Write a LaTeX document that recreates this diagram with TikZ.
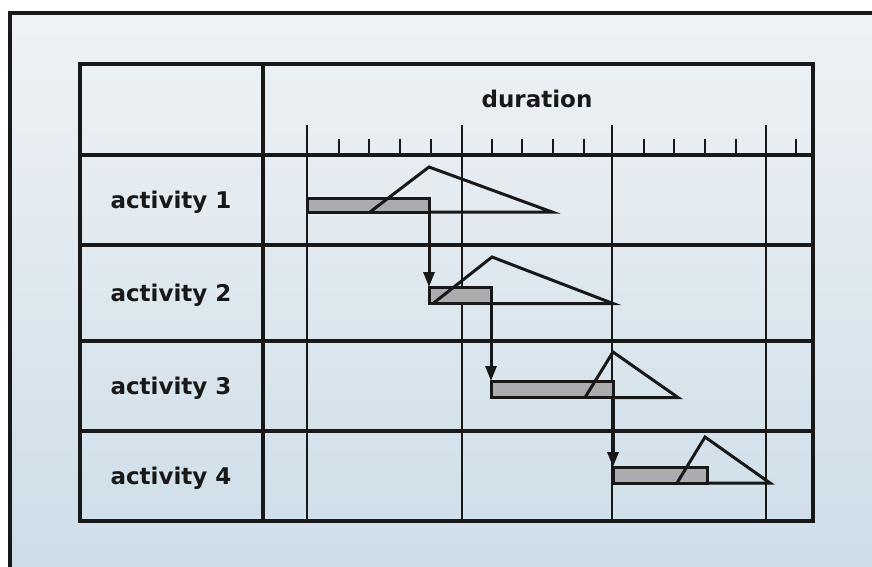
\documentclass[tikz,border=0pt]{standalone}
\usepackage{fontspec}
\setmainfont{DejaVu Sans}
\usepackage{tikz}
\usetikzlibrary{arrows.meta}
\definecolor{ink}{RGB}{24,24,24}
\definecolor{barfill}{RGB}{172,172,176}
\definecolor{bgtop}{RGB}{239,242,245}
\definecolor{bgbottom}{RGB}{205,221,232}

\begin{document}
\begin{tikzpicture}[x=1pt,y=-1pt,
  grid/.style={ink,line width=3.2pt},
  thin grid/.style={ink,line width=1.6pt},
  bar/.style={draw=ink,fill=barfill,line width=3pt,inner sep=0pt,outer sep=0pt,anchor=north west},
  load/.style={ink,line width=3pt},
  link/.style={ink,line width=3pt,-{Triangle[length=15pt,width=11pt]}},
  actlabel/.style={font=\fontsize{23}{27}\selectfont\bfseries,text=ink,anchor=base}]
  \path[use as bounding box] (0,0) rectangle (872,566);
  \clip (0,0) rectangle (872,566);
  \fill[white] (0,0) rectangle (872,566);
  \draw[ink,line width=3.2pt,top color=bgtop,bottom color=bgbottom] (10,13) rectangle (890,570);
  \draw[grid] (80,64) rectangle (813,521);
  \draw[grid] (263,64) -- (263,521);
  \foreach \y in {155,245,341,431}
    \draw[grid] (80,\y) -- (813,\y);
  \foreach \x in {307,462,612,766}
    \draw[thin grid] (\x,125) -- (\x,521);
  \foreach \x in {339,369,400,431,492,522,553,584,644,674,705,736,796}
    \draw[thin grid] (\x,139) -- (\x,155);
  \node[actlabel] (dur) at (537,107) {duration};
  \node[actlabel] (act1) at (171,208) {activity 1};
  \node[actlabel] (act2) at (171,301) {activity 2};
  \node[actlabel] (act3) at (171,394) {activity 3};
  \node[actlabel] (act4) at (171,484) {activity 4};
  \node[bar,minimum width=122pt,minimum height=14pt] (bar1) at (307,198) {};
  \node[bar,minimum width=62pt,minimum height=16.5pt] (bar2) at (429,287) {};
  \node[bar,minimum width=122pt,minimum height=16.5pt] (bar3) at (491,381) {};
  \node[bar,minimum width=94pt,minimum height=16pt] (bar4) at (613,467) {};
  \draw[load] (bar1.south east) -- (552,212) -- (429,167) -- (370,212);
  \draw[load] (bar2.south east) -- (613,303.5) -- (492,257) -- (433,303.5);
  \draw[load] (bar3.south east) -- (678,397.5) -- (613,352) -- (585,397.5);
  \draw[load] (bar4.south east) -- (770,483) -- (705,437) -- (677,483);
  \draw[link] (bar1.south east) -- (bar2.north west);
  \draw[link] (bar2.south east) -- (bar3.north west);
  \draw[link] (bar3.south east) -- (bar4.north west);
\end{tikzpicture}
\end{document}
